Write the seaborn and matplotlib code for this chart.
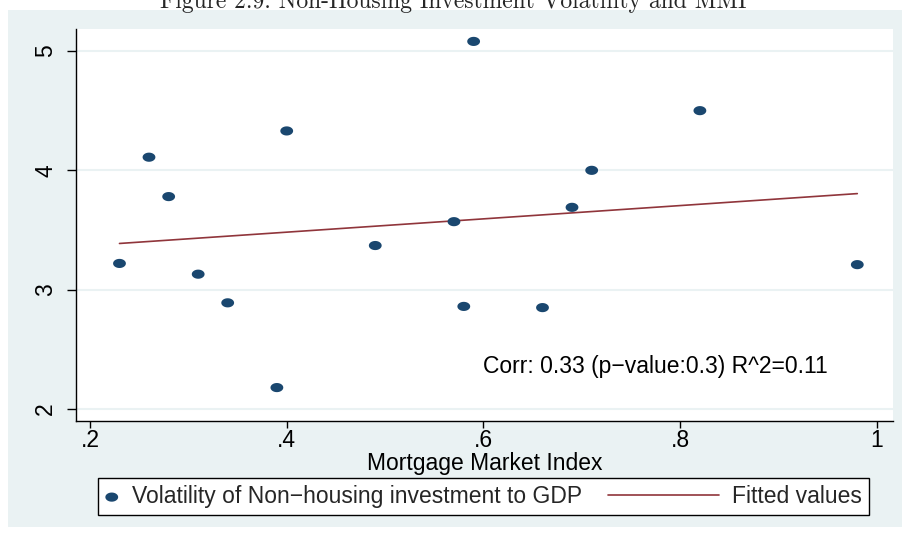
import matplotlib
matplotlib.use("Agg")
import matplotlib.pyplot as plt
from matplotlib.patches import Rectangle
from matplotlib.path import Path
from matplotlib.legend_handler import HandlerLine2D
import numpy as np
import pandas as pd
import seaborn as sns

# data
mmi = [0.23, 0.26, 0.28, 0.31, 0.34, 0.39, 0.40, 0.49,
       0.57, 0.58, 0.59, 0.66, 0.69, 0.71, 0.82, 0.98]
volatility = [3.22, 4.11, 3.78, 3.13, 2.89, 2.18, 4.33, 3.37,
              3.57, 2.86, 5.08, 2.85, 3.69, 4.00, 4.50, 3.21]
x_ticks = [0.2, 0.4, 0.6, 0.8, 1.0]
x_ticklabels = [".2", ".4", ".6", ".8", "1"]
y_ticks = [2, 3, 4, 5]
y_ticklabels = ["2", "3", "4", "5"]

df = pd.DataFrame({"mmi": mmi, "vol": volatility})

NAVY = "#1a476f"
MAROON = "#90353b"
BG = "#eaf2f3"
FS = 16.5

# the source picture is stretched sideways, so the dots are slightly wide ellipses
t = np.linspace(0, 2 * np.pi, 60)
oval = Path(np.column_stack([1.4 * np.cos(t), np.sin(t)]), closed=True)


class LongLine(HandlerLine2D):
    # legend line that reaches further left than the (short) handle box
    def get_xdata(self, legend, xdescent, ydescent, width, height, fontsize):
        xdata = np.array([-xdescent - 70, -xdescent + width])
        return xdata, xdata


sns.set_theme(style="white")
plt.rcParams["font.family"] = ["Liberation Sans", "DejaVu Sans"]

fig = plt.figure(figsize=(9.06, 5.35), dpi=100)
fig.patch.set_facecolor("white")
fig.patches.append(Rectangle((8 / 906, 1 - 527 / 535), 894 / 906, 517 / 535,
                             transform=fig.transFigure, facecolor=BG,
                             edgecolor="none", zorder=-10))

# clipped title at the very top
fig.text(0.5, 1 - 8 / 535, "Figure 2.9: Non-Housing Investment Volatility and MMI",
         ha="center", va="baseline", fontsize=17, family="cmr10")

ax = fig.add_axes([76 / 906, 1 - 421 / 535, 817 / 906, 392 / 535])
ax.set_facecolor("white")

sns.scatterplot(data=df, x="mmi", y="vol", ax=ax, color=NAVY, s=85,
                marker=oval, edgecolor="none", zorder=3, legend=False)
sns.regplot(data=df, x="mmi", y="vol", ax=ax, scatter=False, ci=None,
            line_kws={"color": MAROON, "lw": 1.2})
pts = ax.collections[0]
fit = ax.lines[-1]

ax.set_xlim(0.1858, 1.0163)
ax.set_ylim(1.90, 5.184)
ax.set_xticks(x_ticks)
ax.set_xticklabels(x_ticklabels)
ax.set_yticks(y_ticks)
ax.set_yticklabels(y_ticklabels, rotation=90, va="center")
ax.tick_params(axis="both", direction="out", width=1, color="black",
               labelsize=FS, labelcolor="black", bottom=True, left=True)
ax.tick_params(axis="x", length=5, pad=1)
ax.tick_params(axis="y", length=6.5, pad=7)
ax.yaxis.grid(True, color=BG, lw=1.5)
ax.set_axisbelow(True)
for side in ["top", "right"]:
    ax.spines[side].set_visible(False)
for side in ["left", "bottom"]:
    ax.spines[side].set_color("black")
    ax.spines[side].set_linewidth(1.0)

ax.set_xlabel("Mortgage Market Index", fontsize=FS, color="black", labelpad=0)
ax.set_ylabel("")

ax.text(0.6, 2.36, "Corr: 0.33 (p\u2212value:0.3) R^2=0.11", fontsize=FS,
        ha="left", va="center", color="black")

leg = fig.legend([pts, fit],
                 ["Volatility of Non\u2212housing investment to GDP", "Fitted values"],
                 ncol=2, loc="lower left",
                 bbox_to_anchor=(98 / 906, 1 - 515 / 535, 771 / 906, 34 / 535),
                 mode="expand", frameon=True, fancybox=False, fontsize=FS,
                 handlelength=0.6, handletextpad=0.6, borderaxespad=0,
                 borderpad=0.3, handler_map={fit: LongLine()})
leg.get_frame().set_edgecolor("black")
leg.get_frame().set_linewidth(1.0)
leg.get_frame().set_facecolor("white")
leg.get_frame().set_alpha(1)

fig.savefig("out.png", dpi=100)
